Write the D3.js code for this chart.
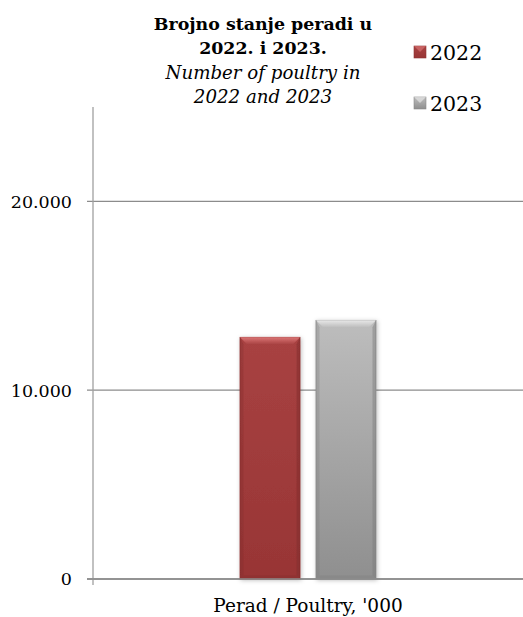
<!DOCTYPE html>
<html><head><meta charset="utf-8">
<script src="https://cdn.jsdelivr.net/npm/d3@7"></script>
<style>
html,body{margin:0;padding:0;background:#fff;}
svg{display:block;}
</style></head>
<body>
<svg id="chart" width="523" height="617"></svg>
<script>
const categories = ["Perad / Poultry, '000"];
const seriesNames = ["2022", "2023"];
const values2022 = [12800];
const values2023 = [13700];
const yTicks = [0, 10000, 20000];
const yTickLabels = ["0", "10.000", "20.000"];
const titleLines = ["Brojno stanje peradi u", "2022. i 2023."];
const subtitleLines = ["Number of poultry in", "2022 and 2023"];

const svg = d3.select("#chart");
const W = 523, H = 617;
const m = {left: 93, right: 0, top: 107, bottom: 38};
const plotW = W - m.left - m.right, plotH = H - m.top - m.bottom;
const font = "'DejaVu Serif', 'Liberation Serif', serif";

const y = d3.scaleLinear().domain([0, 25000]).range([m.top + plotH, m.top]);
const x0 = d3.scaleBand().domain(categories).range([m.left, W - m.right]);
const x1 = d3.scaleBand().domain(seriesNames).range([0, x0.bandwidth()]).paddingInner(0.21).paddingOuter(1.935);

const defs = svg.append("defs");
const styles = {
  "2022": {top:"#a84242", bot:"#983535", light:"#e07a7a", side:"#7d2a2a", bottom:"#8a2f2f", edge:"#8e3333"},
  "2023": {top:"#bdbdbd", bot:"#8f8f8f", light:"#ececec", side:"#7a7a7a", bottom:"#858585", edge:"#8a8a8a"}
};
seriesNames.forEach(s => {
  const g = defs.append("linearGradient").attr("id", "g" + s).attr("x1", 0).attr("y1", 0).attr("x2", 0).attr("y2", 1);
  g.append("stop").attr("offset", "0%").attr("stop-color", styles[s].top);
  g.append("stop").attr("offset", "100%").attr("stop-color", styles[s].bot);
  const t = defs.append("linearGradient").attr("id", "t" + s).attr("x1", 0).attr("y1", 0).attr("x2", 0).attr("y2", 1);
  t.append("stop").attr("offset", "0%").attr("stop-color", styles[s].light);
  t.append("stop").attr("offset", "100%").attr("stop-color", styles[s].top);
});
const f = defs.append("filter").attr("id", "shadow").attr("x", "-20%").attr("y", "-20%").attr("width", "140%").attr("height", "140%");
f.append("feDropShadow").attr("dx", 1).attr("dy", 1).attr("stdDeviation", 2).attr("flood-color", "#000").attr("flood-opacity", 0.25);

// gridlines
svg.append("g").selectAll("line").data(yTicks).join("line")
  .attr("x1", m.left - 6).attr("x2", W - m.right)
  .attr("y1", d => y(d)).attr("y2", d => y(d))
  .attr("stroke", "#8c8c8c").attr("stroke-width", 1.3);

// y axis line
svg.append("line").attr("x1", m.left).attr("x2", m.left)
  .attr("y1", y(25000)).attr("y2", y(0) + 6)
  .attr("stroke", "#a0a0a0").attr("stroke-width", 1.3);

// tick labels
svg.append("g").selectAll("text").data(yTicks).join("text")
  .attr("x", m.left - 21).attr("y", d => y(d)).attr("dy", "0.36em")
  .attr("text-anchor", "end").attr("font-family", font).attr("font-size", 17.5)
  .attr("fill", "#000").text((d, i) => yTickLabels[i]);

// bars
const data = categories.map((c, i) => ({cat: c, vals: [{s: "2022", v: values2022[i]}, {s: "2023", v: values2023[i]}]}));
const bev = 7;
data.forEach(d => {
  d.vals.forEach(b => {
    const bx = x0(d.cat) + x1(b.s), bw = x1.bandwidth();
    const by = y(b.v), bh = y(0) - y(b.v);
    const st = styles[b.s];
    const g = svg.append("g").attr("filter", "url(#shadow)");
    g.append("rect").attr("x", bx).attr("y", by).attr("width", bw).attr("height", bh)
      .attr("fill", `url(#g${b.s})`).attr("stroke", st.edge).attr("stroke-width", 0.8);
    // top bevel
    g.append("polygon").attr("points", [[bx, by], [bx + bw, by], [bx + bw - bev, by + bev], [bx + bev, by + bev]].join(" "))
      .attr("fill", `url(#t${b.s})`).attr("opacity", 0.9);
    // left bevel
    g.append("polygon").attr("points", [[bx, by], [bx + bev * 0.5, by + bev], [bx + bev * 0.5, by + bh - bev * 0.5], [bx, by + bh]].join(" "))
      .attr("fill", st.side).attr("opacity", 0.3);
    // right bevel
    g.append("polygon").attr("points", [[bx + bw, by], [bx + bw - bev * 0.5, by + bev], [bx + bw - bev * 0.5, by + bh - bev * 0.5], [bx + bw, by + bh]].join(" "))
      .attr("fill", st.side).attr("opacity", 0.45);
    // bottom bevel
    g.append("polygon").attr("points", [[bx, by + bh], [bx + bev * 0.5, by + bh - bev * 0.5], [bx + bw - bev * 0.5, by + bh - bev * 0.5], [bx + bw, by + bh]].join(" "))
      .attr("fill", st.bottom).attr("opacity", 0.6);
  });
});

// redraw baseline over bars
svg.append("line").attr("x1", m.left - 6).attr("x2", W - m.right)
  .attr("y1", y(0)).attr("y2", y(0)).attr("stroke", "#8c8c8c").attr("stroke-width", 1.3);

// category label
svg.append("g").selectAll("text").data(categories).join("text")
  .attr("x", d => x0(d) + x0.bandwidth() / 2).attr("y", 612)
  .attr("text-anchor", "middle").attr("font-family", font).attr("font-size", 18.5)
  .attr("fill", "#000").text(d => d);

// title
const tcx = 263;
svg.append("g").selectAll("text").data(titleLines).join("text")
  .attr("x", tcx).attr("y", (d, i) => 30 + i * 24)
  .attr("text-anchor", "middle").attr("font-family", font).attr("font-weight", "bold")
  .attr("font-size", 17.4).attr("fill", "#000").text(d => d);
svg.append("g").selectAll("text").data(subtitleLines).join("text")
  .attr("x", tcx).attr("y", (d, i) => 79 + i * 24)
  .attr("text-anchor", "middle").attr("font-family", font).attr("font-style", "italic")
  .attr("font-size", 18.2).attr("fill", "#000").text(d => d);

// legend
const leg = svg.append("g").selectAll("g").data(seriesNames).join("g")
  .attr("transform", (d, i) => `translate(414, ${46 + i * 51})`);
leg.each(function(s) {
  const g = d3.select(this);
  const st = styles[s];
  g.append("rect").attr("width", 12).attr("height", 12).attr("fill", `url(#g${s})`).attr("stroke", st.edge).attr("stroke-width", 0.6);
  g.append("polygon").attr("points", "0,0 12,0 6,6").attr("fill", st.light).attr("opacity", 0.6);
  g.append("text").attr("x", 16).attr("y", 6).attr("dy", "0.4em").attr("font-family", font)
    .attr("font-size", 20.5).attr("fill", "#000").text(s);
});
</script>
</body></html>
